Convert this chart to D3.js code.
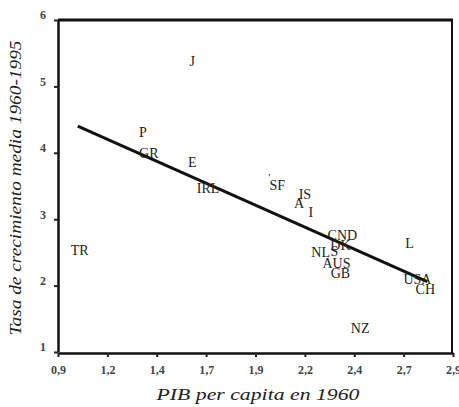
<!DOCTYPE html>
<html>
<head>
<meta charset="utf-8">
<script src="https://cdn.jsdelivr.net/npm/d3@7"></script>
<style>
  body { margin: 0; background: white; }
  svg { display: block; }
</style>
</head>
<body>
<svg id="chart"></svg>
<script>
// Country codes and their values (PIB per capita 1960, growth rate 1960-1995)
const countries = ["J", "P", "GR", "E", "IRL", "'", "SF", "IS", "A", "I", "CND", "DK", "NL", "S", "AUS", "GB", "L", "USA", "CH", "NZ", "TR"];
const pibValues = [1.58, 1.33, 1.36, 1.58, 1.66, 1.97, 2.01, 2.15, 2.12, 2.18, 2.34, 2.33, 2.23, 2.30, 2.31, 2.33, 2.68, 2.72, 2.76, 2.43, 1.01];
const growthValues = [5.37, 4.31, 3.99, 3.85, 3.46, 3.63, 3.51, 3.37, 3.24, 3.10, 2.75, 2.60, 2.50, 2.51, 2.33, 2.18, 2.63, 2.09, 1.94, 1.36, 2.53];

// Regression line end points
const fitX = [1.0, 2.77];
const fitY = [4.40, 2.06];

// Axis ticks
const xTickValues = [0.9, 1.15, 1.4, 1.65, 1.9, 2.15, 2.4, 2.65, 2.9];
const xTickLabels = ["0,9", "1,2", "1,4", "1,7", "1,9", "2,2", "2,4", "2,7", "2,9"];
const yTickValues = [1, 2, 3, 4, 5, 6];

const width = 459;
const height = 407;
const margin = { top: 20, right: 6, bottom: 55, left: 58 };
const plotW = width - margin.left - margin.right;
const plotH = height - margin.top - margin.bottom;

const svg = d3.select("#chart").attr("width", width).attr("height", height);
const g = svg.append("g").attr("transform", `translate(${margin.left},${margin.top})`);

const x = d3.scaleLinear().domain([0.9, 2.9]).range([0, plotW]);
const y = d3.scaleLinear().domain([1, 6]).range([plotH, 0]);

const serif = "Liberation Serif, Times New Roman, serif";

// Top and right frame lines
g.append("line")
  .attr("x1", 0).attr("x2", x(2.9))
  .attr("y1", y(6)).attr("y2", y(6))
  .attr("stroke", "#111").attr("stroke-width", 3);
g.append("line")
  .attr("x1", x(2.9) - 1).attr("x2", x(2.9) - 1)
  .attr("y1", y(6)).attr("y2", y(1) + 1)
  .attr("stroke", "#111").attr("stroke-width", 2);

// X axis
const xAxis = g.append("g")
  .attr("transform", `translate(0,${plotH + 1})`)
  .call(
    d3.axisBottom(x)
      .tickValues(xTickValues)
      .tickFormat((d, i) => xTickLabels[i])
      .tickSizeInner(4)
      .tickSizeOuter(0)
  );
xAxis.select(".domain").attr("stroke", "#111").attr("stroke-width", 2.5);
xAxis.selectAll(".tick line").attr("stroke", "#222").attr("stroke-width", 2);
xAxis.selectAll(".tick text")
  .attr("y", 12)
  .style("font-family", serif)
  .style("font-size", "12px")
  .style("font-weight", "bold")
  .attr("fill", "#444");

// Y axis
const yAxis = g.append("g")
  .call(
    d3.axisLeft(y)
      .tickValues(yTickValues)
      .tickFormat(d3.format("d"))
      .tickSizeInner(4)
      .tickSizeOuter(0)
  );
yAxis.select(".domain").attr("stroke", "#111").attr("stroke-width", 2.5);
yAxis.selectAll(".tick line").attr("stroke", "#222").attr("stroke-width", 2);
yAxis.selectAll(".tick text")
  .attr("x", -12)
  .attr("dy", "-0.1em")
  .style("font-family", serif)
  .style("font-size", "12px")
  .style("font-weight", "bold")
  .attr("fill", "#444");

// Regression line
g.append("line")
  .attr("x1", x(fitX[0])).attr("y1", y(fitY[0]))
  .attr("x2", x(fitX[1])).attr("y2", y(fitY[1]))
  .attr("stroke", "#111")
  .attr("stroke-width", 3);

// Country labels used as markers
g.selectAll(".country")
  .data(countries)
  .enter()
  .append("text")
  .attr("class", "country")
  .attr("x", (d, i) => x(pibValues[i]))
  .attr("y", (d, i) => y(growthValues[i]))
  .attr("text-anchor", "middle")
  .attr("dominant-baseline", "central")
  .style("font-family", serif)
  .style("font-size", (d) => (d === "'" ? "11px" : "14px"))
  .attr("fill", "#222")
  .text((d) => d);

// Axis titles
svg.append("text")
  .attr("x", 258)
  .attr("y", 400)
  .attr("text-anchor", "middle")
  .attr("textLength", 203)
  .attr("lengthAdjust", "spacingAndGlyphs")
  .style("font-family", serif)
  .style("font-style", "italic")
  .style("font-size", "17px")
  .attr("fill", "#222")
  .text("PIB per capita en 1960");

svg.append("text")
  .attr("transform", "translate(21,188) rotate(-90)")
  .attr("text-anchor", "middle")
  .attr("textLength", 295)
  .attr("lengthAdjust", "spacingAndGlyphs")
  .style("font-family", serif)
  .style("font-style", "italic")
  .style("font-size", "17px")
  .attr("fill", "#222")
  .text("Tasa de crecimiento media 1960-1995");
</script>
</body>
</html>
